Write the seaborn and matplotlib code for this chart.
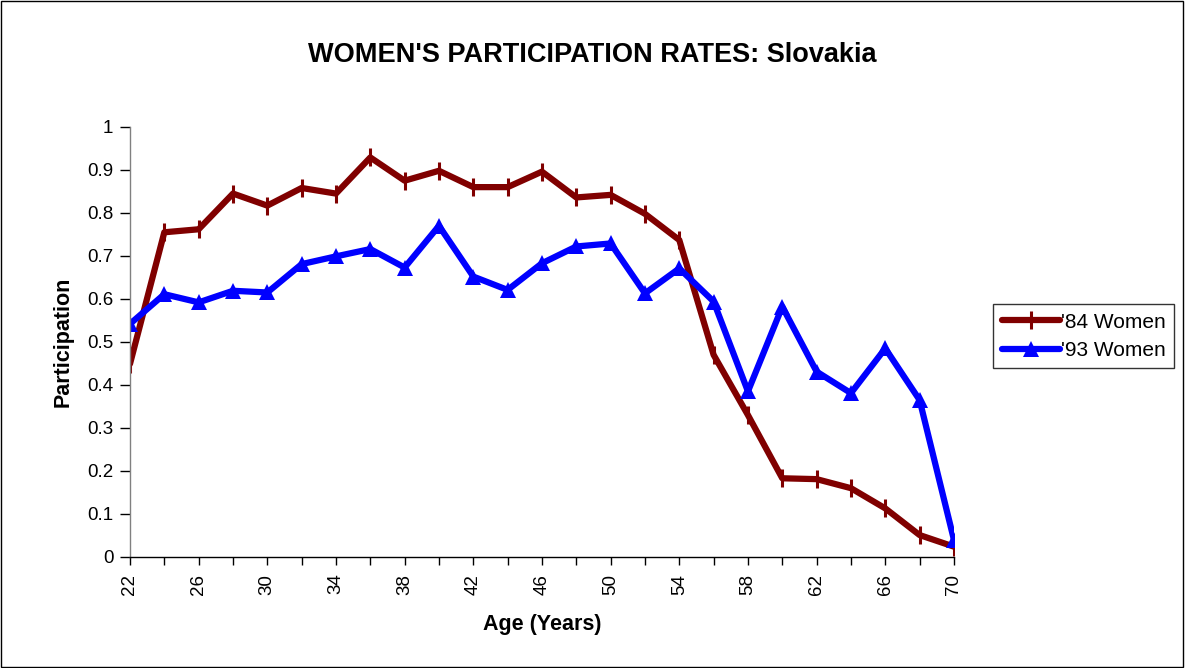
import matplotlib
matplotlib.use("Agg")
import matplotlib.pyplot as plt
import seaborn as sns
import pandas as pd
from matplotlib.patches import Rectangle
from matplotlib.ticker import MultipleLocator, FuncFormatter

ages = list(range(22, 71, 2))
women_84 = [0.449, 0.755, 0.762, 0.845, 0.817, 0.858, 0.845, 0.929, 0.875, 0.898,
            0.86, 0.86, 0.896, 0.836, 0.842, 0.798, 0.737, 0.47, 0.33, 0.183,
            0.181, 0.16, 0.113, 0.051, 0.024]
women_93 = [0.542, 0.611, 0.592, 0.619, 0.615, 0.681, 0.699, 0.716, 0.673, 0.77,
            0.652, 0.621, 0.683, 0.722, 0.729, 0.613, 0.671, 0.594, 0.385, 0.582,
            0.431, 0.381, 0.485, 0.365, 0.04]

sns.set_style("white")
plt.rcParams['font.family'] = ['Liberation Sans', 'DejaVu Sans']
plt.rcParams['text.color'] = 'black'
plt.rcParams['axes.labelcolor'] = 'black'
plt.rcParams['xtick.color'] = 'black'
plt.rcParams['ytick.color'] = 'black'

df84 = pd.DataFrame({"age": ages, "rate": women_84})
df93 = pd.DataFrame({"age": ages, "rate": women_93})

fig = plt.figure(figsize=(11.85, 6.68), dpi=100)
ax = fig.add_axes([0.1097, 0.1662, 0.6953, 0.6438])

sns.lineplot(data=df84, x="age", y="rate", ax=ax, color="#800000", linewidth=4.5,
             marker="|", markersize=13, markeredgewidth=2.2, markeredgecolor="#800000",
             label="'84 Women")
sns.lineplot(data=df93, x="age", y="rate", ax=ax, color="#0000ff", linewidth=4.5,
             marker="^", markersize=11, markeredgewidth=0, markerfacecolor="#0000ff",
             label="'93 Women")

ax.set_xlim(22, 70)
ax.set_ylim(0, 1)
ax.xaxis.set_major_locator(MultipleLocator(2))
ax.xaxis.set_major_formatter(FuncFormatter(lambda v, p: str(int(round(v))) if (int(round(v)) - 22) % 4 == 0 else ""))
ax.yaxis.set_major_locator(MultipleLocator(0.1))
ax.yaxis.set_major_formatter(FuncFormatter(lambda v, p: "0" if abs(v) < 1e-9 else ("1" if abs(v - 1) < 1e-9 else f"{v:.1f}")))
ax.tick_params(axis="x", bottom=True, labelrotation=90, direction="out", length=6, width=1,
               labelsize=13.5, color="black", pad=6)
ax.tick_params(axis="y", left=True, direction="out", length=7, width=1, labelsize=13.5,
               color="black", pad=5)
for side in ["top", "right"]:
    ax.spines[side].set_visible(False)
ax.spines["left"].set_color("#808080")
ax.spines["bottom"].set_color("black")
for s in ["left", "bottom"]:
    ax.spines[s].set_linewidth(1)

ax.set_xlabel("Age (Years)", fontsize=15.5, fontweight="bold", labelpad=14)
ax.set_ylabel("Participation", fontsize=15.5, fontweight="bold", labelpad=10)
fig.text(0.5, 0.918, "WOMEN'S PARTICIPATION RATES: Slovakia", fontsize=19.5,
         fontweight="bold", ha="center", va="center")

leg = ax.legend(loc="center left", bbox_to_anchor=(1.048, 0.513), frameon=True, fancybox=False,
                fontsize=15, handlelength=2.8, handletextpad=0.05, borderpad=0.4,
                labelspacing=0.45, borderaxespad=0)
leg.get_frame().set_edgecolor("black")
leg.get_frame().set_linewidth(1)

fig.patches.append(Rectangle((0.001, 0.001), 0.997, 0.997, transform=fig.transFigure,
                             fill=False, edgecolor="black", linewidth=1))

fig.savefig("out.png", dpi=100)
